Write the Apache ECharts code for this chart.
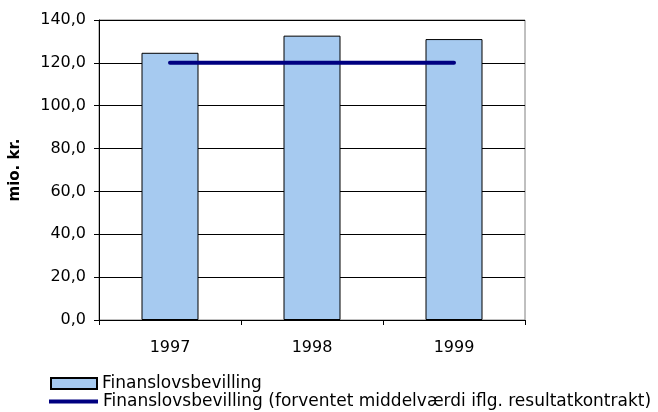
<!DOCTYPE html>
<html>
<head>
<meta charset="utf-8">
<script src="https://cdn.jsdelivr.net/npm/echarts@6/dist/echarts.min.js"></script>
<style>html,body{margin:0;padding:0;background:#fff}#c{width:658px;height:412px}</style>
</head>
<body>
<div id="c"></div>
<script>
var categories = ['1997', '1998', '1999'];
var barValues = [124.7, 132.7, 131.1];
var lineValues = [120, 120, 120];
var barName = 'Finanslovsbevilling';
var lineName = 'Finanslovsbevilling (forventet middelværdi iflg. resultatkontrakt)';
var yAxisName = 'mio. kr.';

var FONT = 'DejaVu Sans';
var chart = echarts.init(document.getElementById('c'), null, {renderer: 'canvas'});
chart.setOption({
  animation: false,
  textStyle: {fontFamily: FONT},
  grid: {left: 99, top: 20, width: 426, height: 300, show: true, borderColor: '#808080', borderWidth: 1, containLabel: false},
  legend: [
    {data: [barName], left: 50, top: 375, orient: 'vertical', padding: 0, itemWidth: 46, itemHeight: 11, itemGap: 0,
     icon: 'rect', textStyle: {fontFamily: FONT, fontSize: 17, color: '#000'}, selectedMode: false},
    {data: [lineName], left: 49, top: 393, orient: 'vertical', padding: 0, itemWidth: 49, itemHeight: 4, itemGap: 0,
     icon: 'rect', textStyle: {fontFamily: FONT, fontSize: 17, color: '#000'}, selectedMode: false}
  ],
  xAxis: {
    type: 'category', data: categories, boundaryGap: true,
    axisLine: {lineStyle: {color: '#000', width: 1}},
    axisTick: {show: true, alignWithLabel: false, length: 5, lineStyle: {color: '#000'}},
    axisLabel: {color: '#000', fontSize: 16, fontFamily: FONT, margin: 20},
    splitLine: {show: false}
  },
  yAxis: {
    type: 'value', min: 0, max: 140, interval: 20,
    name: yAxisName, nameLocation: 'middle', nameRotate: 90, nameGap: 76,
    nameTextStyle: {color: '#000', fontSize: 15, fontWeight: 'bold', fontFamily: FONT},
    axisLine: {show: true, lineStyle: {color: '#000', width: 1}},
    axisTick: {show: true, length: 5, lineStyle: {color: '#000'}},
    axisLabel: {color: '#000', fontSize: 16, fontFamily: FONT, margin: 13,
      formatter: function (v) { return v.toFixed(1).replace('.', ','); }},
    splitLine: {show: true, lineStyle: {color: '#000', width: 1}}
  },
  series: [
    {name: barName, type: 'bar', data: barValues, barWidth: 57,
     itemStyle: {color: '#A6CAF0', borderColor: '#000', borderWidth: 1}},
    {name: lineName, type: 'line', data: lineValues, symbol: 'none', showSymbol: false,
     lineStyle: {color: '#000080', width: 4, cap: 'round'}, itemStyle: {color: '#000080'}}
  ]
});
</script>
</body>
</html>
